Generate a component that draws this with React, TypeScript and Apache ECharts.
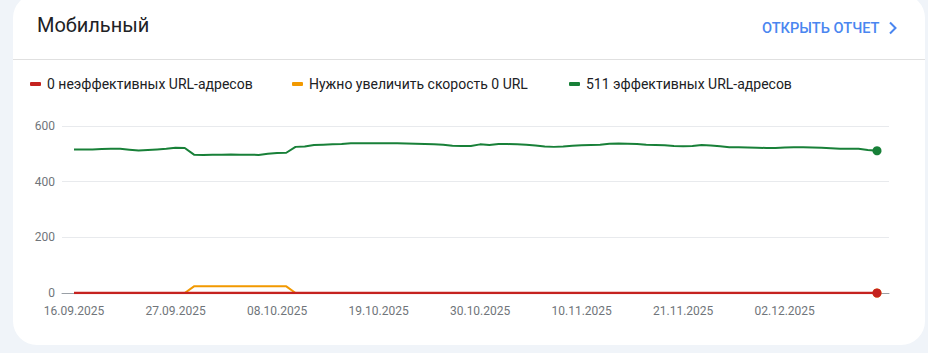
import React, { useEffect, useRef } from "react";
import * as echarts from "echarts";

const dates = [
  "16.09.2025","17.09.2025","18.09.2025","19.09.2025","20.09.2025","21.09.2025","22.09.2025","23.09.2025","24.09.2025","25.09.2025",
  "26.09.2025","27.09.2025","28.09.2025","29.09.2025","30.09.2025",
  "01.10.2025","02.10.2025","03.10.2025","04.10.2025","05.10.2025","06.10.2025","07.10.2025","08.10.2025","09.10.2025","10.10.2025",
  "11.10.2025","12.10.2025","13.10.2025","14.10.2025","15.10.2025","16.10.2025","17.10.2025","18.10.2025","19.10.2025","20.10.2025",
  "21.10.2025","22.10.2025","23.10.2025","24.10.2025","25.10.2025","26.10.2025","27.10.2025","28.10.2025","29.10.2025","30.10.2025","31.10.2025",
  "01.11.2025","02.11.2025","03.11.2025","04.11.2025","05.11.2025","06.11.2025","07.11.2025","08.11.2025","09.11.2025","10.11.2025",
  "11.11.2025","12.11.2025","13.11.2025","14.11.2025","15.11.2025","16.11.2025","17.11.2025","18.11.2025","19.11.2025","20.11.2025",
  "21.11.2025","22.11.2025","23.11.2025","24.11.2025","25.11.2025","26.11.2025","27.11.2025","28.11.2025","29.11.2025","30.11.2025",
  "01.12.2025","02.12.2025","03.12.2025","04.12.2025","05.12.2025","06.12.2025","07.12.2025","08.12.2025","09.12.2025","10.12.2025",
  "11.12.2025","12.12.2025"
];

const seriesNames = [
  "0 неэффективных URL-адресов",
  "Нужно увеличить скорость 0 URL",
  "511 эффективных URL-адресов"
];

const poorValues = [
  0,0,0,0,0,0,0,0,0,0, 0,0,0,0,0,0,0,0,0,0,
  0,0,0,0,0,0,0,0,0,0, 0,0,0,0,0,0,0,0,0,0,
  0,0,0,0,0,0,0,0,0,0, 0,0,0,0,0,0,0,0,0,0,
  0,0,0,0,0,0,0,0,0,0, 0,0,0,0,0,0,0,0,0,0,
  0,0,0,0,0,0,0,0
];

const needsImprovementValues = [
  0,0,0,0,0,0,0,0,0,0, 0,0,0,24,24,24,24,24,24,24,
  24,24,24,24,0,0,0,0,0,0, 0,0,0,0,0,0,0,0,0,0,
  0,0,0,0,0,0,0,0,0,0, 0,0,0,0,0,0,0,0,0,0,
  0,0,0,0,0,0,0,0,0,0, 0,0,0,0,0,0,0,0,0,0,
  0,0,0,0,0,0,0,0
];

const goodValues = [
  516,516,516,517,518,518,515,512,514,516,
  518,522,521,497,496,497,497,498,497,497,
  496,500,503,504,525,526,532,533,534,535,
  538,538,538,538,538,538,537,536,535,534,
  533,529,528,528,534,532,535,535,534,533,
  530,526,525,526,529,531,532,533,536,537,
  536,535,533,532,531,528,527,528,532,530,
  527,524,524,523,522,521,521,523,524,524,
  523,522,520,518,518,518,514,511
];

const yTicks = [0, 200, 400, 600];

const colors = ["#c5221f", "#f29900", "#188038"];

export default function App() {
  const ref = useRef<HTMLDivElement>(null);

  useEffect(() => {
    if (!ref.current) return;
    const chart = echarts.init(ref.current, undefined, { renderer: "svg" });
    const last = dates.length - 1;
    const endDot = (_v: any, p: any) => (p.dataIndex === last ? 9 : 0);
    const font = "Roboto, 'Noto Sans', sans-serif";

    const legendCommon = {
      top: 76,
      padding: 0,
      itemWidth: 11,
      itemHeight: 4,
      icon: "roundRect",
      itemGap: 40,
      selectedMode: false,
      textStyle: { fontFamily: font, fontSize: 14, color: "#202124", lineHeight: 16, padding: [0, 0, 0, 1] },
    };

    chart.setOption({
      animation: false,
      backgroundColor: "transparent",
      textStyle: { fontFamily: font },
      legend: [
        { ...legendCommon, left: 30, data: [seriesNames[0]] },
        { ...legendCommon, left: 292, data: [seriesNames[1]] },
        { ...legendCommon, left: 569, data: [seriesNames[2]] },
      ],
      graphic: [
        {
          type: "text",
          left: 37,
          top: 15,
          style: { text: "Мобильный", fontFamily: font, fontSize: 20, fill: "#202124" },
        },
        {
          type: "text",
          left: 762,
          top: 20,
          style: { text: "ОТКРЫТЬ ОТЧЕТ", fontFamily: font, fontSize: 14.6, fontWeight: 500, fill: "#4a86f0" },
        },
        {
          type: "polyline",
          shape: { points: [[890, 22.5], [895.5, 28], [890, 33.5]] },
          style: { stroke: "#4a86f0", lineWidth: 2, fill: "none" },
        },
        {
          type: "line",
          shape: { x1: 13, y1: 59.5, x2: 925, y2: 59.5 },
          style: { stroke: "#e0e0e0", lineWidth: 1 },
        },
      ],
      grid: [
        { left: 62, right: 39, top: 126, bottom: 60 },
        { left: 74, right: 51, top: 126, bottom: 60 },
      ],
      xAxis: [
        {
          gridIndex: 0,
          type: "value",
          min: 0,
          max: 1,
          axisLine: { show: true, onZero: false, lineStyle: { color: "#9aa0a6", width: 1 } },
          axisTick: { show: false },
          axisLabel: { show: false },
          splitLine: { show: false },
        },
        {
          gridIndex: 1,
          type: "category",
          data: dates,
          boundaryGap: false,
          axisLine: { show: false },
          axisTick: { show: false },
          splitLine: { show: false },
          axisLabel: {
            interval: 10,
            margin: 12,
            fontFamily: font,
            fontSize: 12,
            color: "#70757a",
          },
        },
      ],
      yAxis: [
        {
          gridIndex: 0,
          type: "value",
          min: yTicks[0],
          max: yTicks[yTicks.length - 1],
          interval: 200,
          axisLine: { show: false },
          axisTick: { show: false },
          axisLabel: { margin: 7, fontFamily: font, fontSize: 12, color: "#70757a" },
          splitLine: { show: true, lineStyle: { color: "#e8eaed", width: 1 } },
        },
        {
          gridIndex: 1,
          type: "value",
          min: yTicks[0],
          max: yTicks[yTicks.length - 1],
          interval: 200,
          axisLine: { show: false },
          axisTick: { show: false },
          axisLabel: { show: false },
          splitLine: { show: false },
        },
      ],
      series: [
        {
          name: seriesNames[0],
          type: "line",
          xAxisIndex: 1,
          yAxisIndex: 1,
          data: poorValues,
          color: colors[0],
          lineStyle: { width: 2.5, color: colors[0] },
          symbol: "circle",
          showSymbol: true,
          symbolSize: endDot,
          itemStyle: { color: colors[0] },
          z: 5,
        },
        {
          name: seriesNames[1],
          type: "line",
          xAxisIndex: 1,
          yAxisIndex: 1,
          data: needsImprovementValues,
          color: colors[1],
          lineStyle: { width: 2, color: colors[1] },
          symbol: "circle",
          showSymbol: true,
          symbolSize: endDot,
          itemStyle: { color: colors[1] },
          z: 4,
        },
        {
          name: seriesNames[2],
          type: "line",
          xAxisIndex: 1,
          yAxisIndex: 1,
          data: goodValues,
          color: colors[2],
          lineStyle: { width: 2, color: colors[2] },
          symbol: "circle",
          showSymbol: true,
          symbolSize: endDot,
          itemStyle: { color: colors[2] },
          z: 3,
        },
      ],
    });
    return () => chart.dispose();
  }, []);

  return (
    <div
      style={{
        position: "fixed",
        left: 0,
        top: 0,
        width: 928,
        height: 353,
        background: "#f0f4f9",
        overflow: "hidden",
      }}
    >
      <div
        style={{
          position: "absolute",
          left: 13,
          top: -6,
          width: 912,
          height: 351,
          background: "#ffffff",
          borderRadius: 24,
        }}
      />
      <div ref={ref} style={{ position: "absolute", left: 0, top: 0, width: 928, height: 353 }} />
    </div>
  );
}
